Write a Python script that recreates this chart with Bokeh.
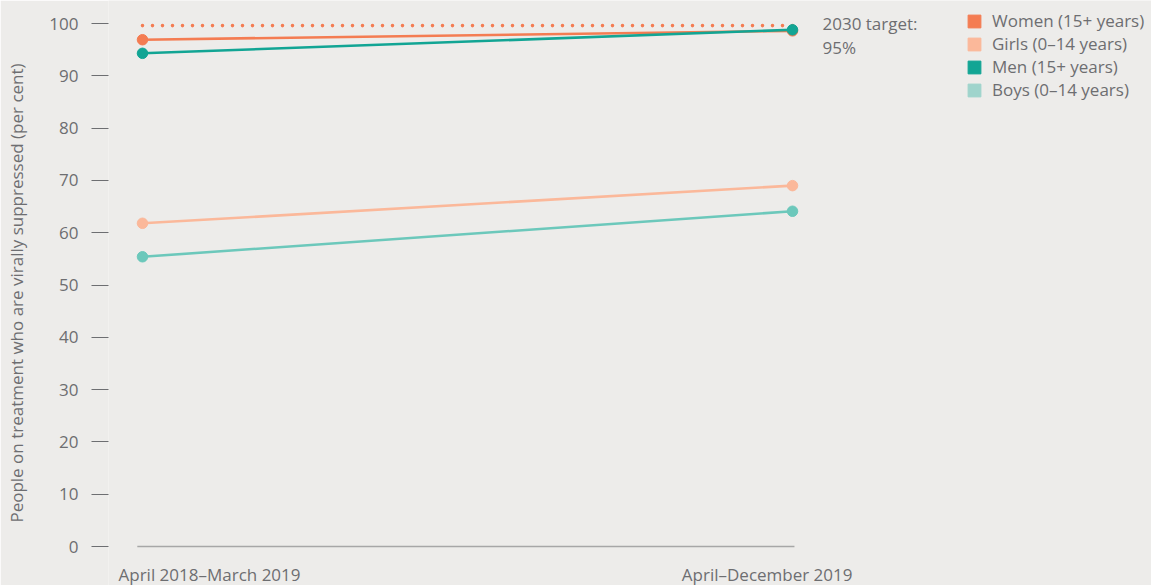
from bokeh.plotting import figure
from bokeh.models import Range1d, FixedTicker, Legend, LegendItem, ColumnDataSource
from bokeh.core.properties import value
from bokeh.embed import file_html
from bokeh.resources import INLINE

periods = ["April 2018\u2013March 2019", "April\u2013December 2019"]
period_x = [0, 1]
women = [96.9, 98.6]
girls = [61.8, 69.0]
men = [94.3, 98.8]
boys = [55.4, 64.1]
target = [99.6, 99.6]
target_label = "2030 target:\n95%"
y_ticks = [0, 10, 20, 30, 40, 50, 60, 70, 80, 90, 100]

series = [
    ("Women (15+ years)", women, "#f47c52", "#f47c52"),
    ("Girls (0\u201314 years)", girls, "#fbb89a", "#fbb89a"),
    ("Men (15+ years)", men, "#12a594", "#12a594"),
    ("Boys (0\u201314 years)", boys, "#6cc8bb", "#9fd4cc"),
]

BG = "#edecea"
GREY = "#6d6e71"
FONT = "Open Sans"
FS = "17px"

p = figure(width=1151, height=585, output_backend="svg", toolbar_location=None,
           x_range=Range1d(-0.0523, 1.5523), y_range=Range1d(-7.457, 104.40),
           min_border_left=108, min_border_right=0, min_border_top=0, min_border_bottom=0,
           background_fill_color=BG, border_fill_color=BG, outline_line_color=None)
p.xaxis.visible = False
p.xgrid.visible = False
p.ygrid.visible = False

yax = p.yaxis[0]
yax.ticker = FixedTicker(ticks=y_ticks)
yax.axis_line_color = None
yax.major_tick_out = 17
yax.major_tick_in = 0
yax.minor_tick_line_color = None
yax.major_tick_line_color = GREY
yax.major_tick_line_width = 1
yax.major_label_standoff = 13
yax.major_label_text_font = FONT
yax.major_label_text_font_size = FS
yax.major_label_text_color = GREY
yax.axis_label = "People on treatment who are virally suppressed (per cent)"
yax.axis_label_text_font = FONT
yax.axis_label_text_font_size = FS
yax.axis_label_text_font_style = "normal"
yax.axis_label_text_color = GREY
yax.axis_label_standoff = 18

# baseline
p.line(x=[-0.008, 1.003], y=[0, 0], line_color="#a7a7a7", line_width=1.3)

# target dotted line
p.line(x=period_x, y=target, line_color="#f47c52", line_width=3.6,
       line_dash="0 10", line_cap="round")

legend_items = []
for name, vals, col, lcol in series:
    src = ColumnDataSource(dict(x=period_x, y=vals))
    p.line("x", "y", source=src, line_color=col, line_width=2.6)
    p.scatter("x", "y", source=src, size=10.5, fill_color=col, line_color=col)
    nan = float("nan")
    dummy = p.quad(left=[nan], right=[nan], bottom=[nan], top=[nan],
                   fill_color=lcol, line_color=lcol)
    legend_items.append(LegendItem(label=name, renderers=[dummy]))

# x labels
p.text(x=[period_x[0]], y=[0], text=[periods[0]], x_offset=-24, y_offset=28,
       text_align="left", text_baseline="middle", text_font=value(FONT),
       text_font_size=FS, text_color=GREY)
p.text(x=[period_x[1]], y=[0], text=[periods[1]], x_offset=60, y_offset=28,
       text_align="right", text_baseline="middle", text_font=value(FONT),
       text_font_size=FS, text_color=GREY)

# target label
p.text(x=[period_x[1]], y=[target[0]], text=[target_label], x_offset=30, y_offset=-14,
       text_align="left", text_baseline="top", text_font=value(FONT),
       text_font_size=FS, text_color=GREY, text_line_height=1.05)

legend = Legend(items=legend_items, location=(858, 484))
legend.background_fill_alpha = 0
legend.border_line_color = None
legend.padding = 0
legend.margin = 0
legend.spacing = -1
legend.glyph_width = 16
legend.glyph_height = 16
legend.label_height = 20
legend.label_standoff = 10
legend.label_text_font = FONT
legend.label_text_font_size = FS
legend.label_text_color = GREY
p.add_layout(legend)

open("out.html", "w").write(file_html(p, INLINE))
